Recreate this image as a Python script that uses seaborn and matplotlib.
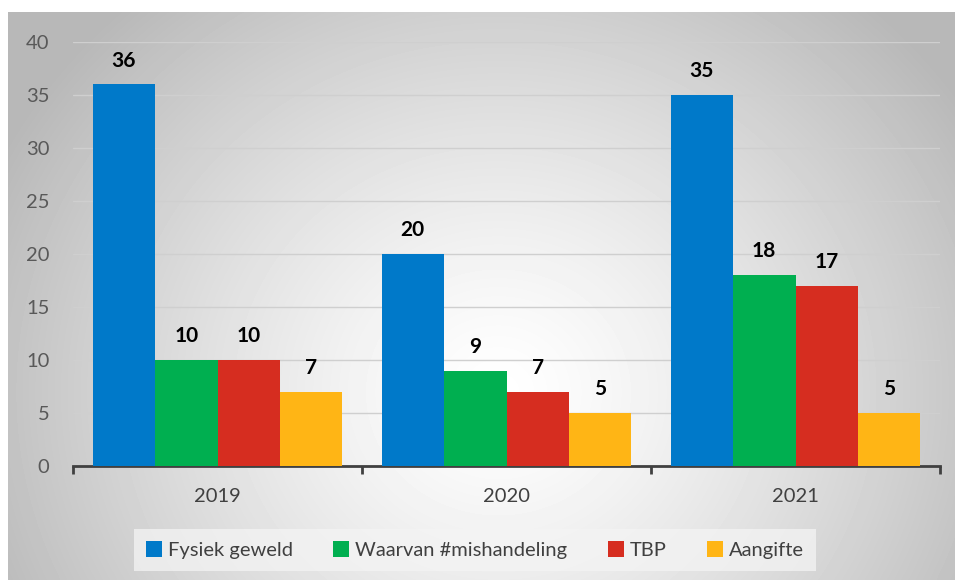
import numpy as np
import pandas as pd
import seaborn as sns
import matplotlib.pyplot as plt

# Data
years = ['2019', '2020', '2021']
series = ['Fysiek geweld', 'Waarvan #mishandeling', 'TBP', 'Aangifte']
fysiek = [36, 20, 35]
mishandeling = [10, 9, 18]
tbp = [10, 7, 17]
aangifte = [7, 5, 5]
colors = ['#0079C9', '#00AF50', '#D62D20', '#FFB515']

df = pd.DataFrame({'Jaar': years, series[0]: fysiek, series[1]: mishandeling,
                   series[2]: tbp, series[3]: aangifte})
long = df.melt(id_vars='Jaar', var_name='Reeks', value_name='Aantal')

sns.set_theme(style='white')
plt.rcParams['font.family'] = ['Lato', 'DejaVu Sans']

fig = plt.figure(figsize=(9.59, 5.83), dpi=100)

# Radial gradient background panel
bg = fig.add_axes([8 / 959, 3 / 583, 947 / 959, 568 / 583], zorder=-2)
W, H = 947, 568
xx, yy = np.meshgrid(np.arange(W), np.arange(H))
r = np.sqrt(((xx - 490) / 560) ** 2 + ((yy - 380) / 520) ** 2)
shade = np.clip(1 - 0.28 * r ** 1.3, 0.72, 1)
bg.imshow(shade, cmap='gray', vmin=0, vmax=1, aspect='auto', interpolation='bilinear')
bg.axis('off')

ax = fig.add_axes([73 / 959, 1 - 466 / 583, (940 - 73) / 959, (466 - 42) / 583])
ax.set_facecolor('none')
sns.barplot(data=long, x='Jaar', y='Aantal', hue='Reeks', palette=colors,
            width=0.865, saturation=1, linewidth=0, edgecolor='none', ax=ax, zorder=3)

for cont in ax.containers:
    ax.bar_label(cont, padding=10, fontsize=15, fontweight='bold', color='black')

ax.set_ylim(0, 40)
ax.set_yticks(range(0, 41, 5))
ax.set_xlim(-0.5, 2.5)
ax.grid(axis='y', color='#cfcfcf', linewidth=1, zorder=0)
ax.set_axisbelow(True)
ax.set_xlabel('')
ax.set_ylabel('')
for s in ['top', 'right', 'left']:
    ax.spines[s].set_visible(False)
ax.spines['bottom'].set_color('#404040')
ax.spines['bottom'].set_linewidth(2)
ax.tick_params(axis='y', length=0, labelsize=14.5, labelcolor='#595959', pad=17)
ax.tick_params(axis='x', which='major', bottom=True, length=0, labelsize=14.5,
               labelcolor='#404040', pad=16)
ax.set_xticks([-0.5, 0.5, 1.5, 2.5], minor=True)
ax.tick_params(axis='x', which='minor', bottom=True, length=6, width=2,
               color='#404040', direction='out')

handles, labels = ax.get_legend_handles_labels()
ax.legend(handles, labels, loc='center', bbox_to_anchor=(475 / 959, 1 - 550 / 583),
          bbox_transform=fig.transFigure, ncol=4, frameon=True, fontsize=14.5,
          facecolor='#f4f4f4', edgecolor='none', framealpha=0.75, fancybox=False,
          handlelength=0.8, handleheight=0.8, handletextpad=0.3, columnspacing=2.0,
          labelcolor='#404040', borderpad=0.6)

fig.savefig('out.png', dpi=100)
